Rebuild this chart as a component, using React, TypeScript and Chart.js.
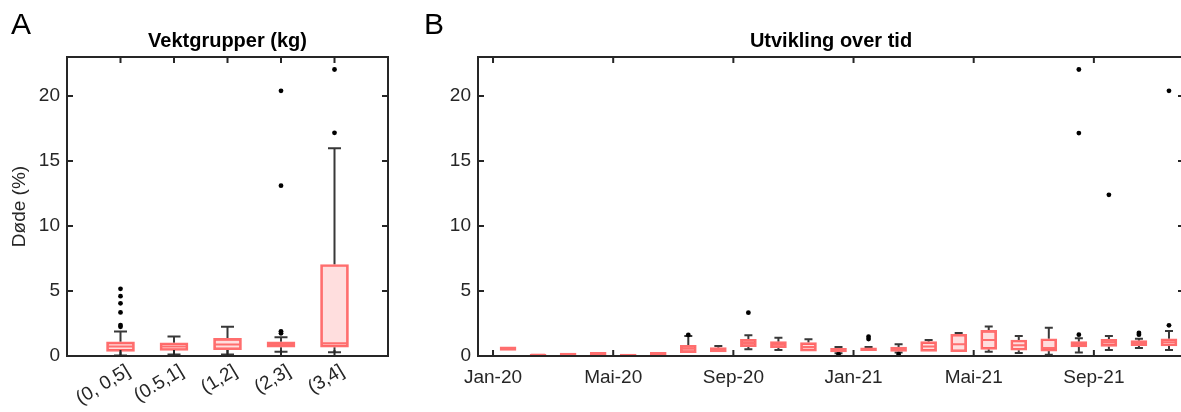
import React, { useEffect, useRef } from 'react';
import { Chart, registerables } from 'chart.js';

Chart.register(...registerables);

const FONT = '"Liberation Sans", Arial, Helvetica, sans-serif';
const INK = '#262626';
const BOX_EDGE = 'rgb(255,110,110)';
const BOX_FILL = 'rgba(255,0,0,0.13)';
const WHISKER = '#383838';

// ---------- Panel A: weight groups ----------
const categoriesA = ['(0, 0,5]', '(0.5,1]', '(1,2]', '(2,3]', '(3,4]'];
const lowA = [0.03, 0.12, 0.12, 0.32, 0.29];
const q1A = [0.35, 0.42, 0.48, 0.68, 0.68];
const medA = [0.73, 0.73, 0.88, 0.88, 0.98];
const q3A = [1.09, 1.02, 1.35, 1.09, 7.04];
const highA = [1.88, 1.5, 2.25, 1.44, 15.98];
const outliersA = [
  [2.25, 2.38, 3.35, 4.05, 4.6, 5.17],
  [],
  [],
  [1.75, 1.9, 13.1, 20.4],
  [17.17, 22.04],
];

// ---------- Panel B: development over time (monthly) ----------
const monthsB = [
  'Jan-20', 'Feb-20', 'Mar-20', 'Apr-20', 'Mai-20', 'Jun-20', 'Jul-20', 'Aug-20',
  'Sep-20', 'Okt-20', 'Nov-20', 'Des-20', 'Jan-21', 'Feb-21', 'Mar-21', 'Apr-21',
  'Mai-21', 'Jun-21', 'Jul-21', 'Aug-21', 'Sep-21', 'Okt-21', 'Nov-21',
];
const lowB = [0.4, 0.04, 0.08, 0.08, 0.03, 0.07, 0.2, 0.26, 0.51, 0.46, 0.33, 0.22, 0.36, 0.26, 0.36, 0.33, 0.33, 0.23, 0.1, 0.26, 0.46, 0.62, 0.46];
const q1B = [0.42, 0.05, 0.1, 0.1, 0.04, 0.08, 0.26, 0.31, 0.72, 0.64, 0.38, 0.31, 0.41, 0.36, 0.36, 0.33, 0.51, 0.44, 0.38, 0.69, 0.74, 0.79, 0.77];
const medB = [0.55, 0.09, 0.15, 0.18, 0.08, 0.15, 0.56, 0.46, 1.0, 0.9, 0.69, 0.46, 0.51, 0.5, 0.74, 0.9, 1.23, 0.82, 0.62, 0.9, 1.03, 1.0, 1.05];
const q3B = [0.7, 0.15, 0.22, 0.28, 0.15, 0.28, 0.82, 0.64, 1.28, 1.1, 1.03, 0.59, 0.62, 0.69, 1.1, 1.67, 1.97, 1.23, 1.33, 1.1, 1.28, 1.18, 1.33];
const highB = [0.72, 0.16, 0.24, 0.3, 0.16, 0.33, 1.54, 0.77, 1.59, 1.41, 1.28, 0.69, 0.7, 0.9, 1.23, 1.77, 2.26, 1.54, 2.18, 1.36, 1.54, 1.33, 1.92];
const outliersB = [
  [], [], [], [], [], [], [1.62], [], [3.33], [], [], [0.15],
  [1.3, 1.49], [0.15], [], [], [], [], [], [1.64, 17.15, 22.04], [12.4], [1.64, 1.77], [2.36, 20.4],
];
const monthTickPositions = [0, 4, 8, 12, 16, 20];
const monthTickLabels = ['Jan-20', 'Mai-20', 'Sep-20', 'Jan-21', 'Mai-21', 'Sep-21'];

const yTickValues = [0, 5, 10, 15, 20];
const yMax = 23;

type Panel = {
  xs: number[];
  low: number[];
  q1: number[];
  med: number[];
  q3: number[];
  high: number[];
  outliers: number[][];
  xMin: number;
  xMax: number;
  xTickValues: number[];
  xTickLabels: string[];
  rotation: number;
  labelOffset: number;
  labelPadding: number;
  yAxisWidth: number;
  rightPad: number;
  boxWidth: number;
  capWidth: number;
  title: string;
  letter: string;
  letterX: number;
  yTitle?: string;
};

const panelA: Panel = {
  xs: categoriesA.map((_, i) => i + 1),
  low: lowA, q1: q1A, med: medA, q3: q3A, high: highA, outliers: outliersA,
  xMin: 0, xMax: 6,
  xTickValues: categoriesA.map((_, i) => i + 1),
  xTickLabels: categoriesA,
  rotation: 31,
  labelOffset: 8,
  labelPadding: 4,
  yAxisWidth: 67,
  rightPad: 12,
  boxWidth: 28,
  capWidth: 13,
  title: 'Vektgrupper (kg)',
  letter: 'A',
  letterX: 11,
  yTitle: 'Døde (%)',
};

const panelB: Panel = {
  xs: monthsB.map((_, i) => i + 0.5),
  low: lowB, q1: q1B, med: medB, q3: q3B, high: highB, outliers: outliersB,
  xMin: -0.5, xMax: 23,
  xTickValues: monthTickPositions,
  xTickLabels: monthTickLabels,
  rotation: 0,
  labelOffset: 0,
  labelPadding: 10,
  yAxisWidth: 78,
  rightPad: 16,
  boxWidth: 16,
  capWidth: 8,
  title: 'Utvikling over tid',
  letter: 'B',
  letterX: 24,
};

const boxplotPlugin = {
  id: 'boxplot',
  beforeDatasetsDraw(chart: any) {
    const p: Panel = chart.options.plugins.boxplot.panel;
    const { ctx } = chart;
    const xs = chart.scales.x;
    const ys = chart.scales.y;
    ctx.save();
    ctx.strokeStyle = WHISKER;
    ctx.lineWidth = 2;
    ctx.beginPath();
    p.xs.forEach((xv, i) => {
      const px = xs.getPixelForValue(xv);
      const pLo = ys.getPixelForValue(p.low[i]);
      const pQ1 = ys.getPixelForValue(p.q1[i]);
      const pQ3 = ys.getPixelForValue(p.q3[i]);
      const pHi = ys.getPixelForValue(p.high[i]);
      const c = p.capWidth / 2;
      if (pQ3 - pHi > 0.8) {
        ctx.moveTo(px, pQ3);
        ctx.lineTo(px, pHi);
        ctx.moveTo(px - c, pHi);
        ctx.lineTo(px + c, pHi);
      }
      if (pLo - pQ1 > 0.8) {
        ctx.moveTo(px, pQ1);
        ctx.lineTo(px, pLo);
        ctx.moveTo(px - c, pLo);
        ctx.lineTo(px + c, pLo);
      }
    });
    ctx.stroke();
    ctx.restore();
  },
  afterDatasetsDraw(chart: any) {
    const p: Panel = chart.options.plugins.boxplot.panel;
    const { ctx } = chart;
    const xs = chart.scales.x;
    const ys = chart.scales.y;
    ctx.save();
    ctx.strokeStyle = BOX_EDGE;
    ctx.lineWidth = 2;
    ctx.beginPath();
    p.xs.forEach((xv, i) => {
      const px = xs.getPixelForValue(xv);
      const pm = ys.getPixelForValue(p.med[i]);
      ctx.moveTo(px - p.boxWidth / 2 + 1, pm);
      ctx.lineTo(px + p.boxWidth / 2 - 1, pm);
    });
    ctx.stroke();
    ctx.restore();
  },
  afterDraw(chart: any) {
    const p: Panel = chart.options.plugins.boxplot.panel;
    const { ctx } = chart;
    const { left, right, top, bottom } = chart.chartArea;
    const xs = chart.scales.x;
    const ys = chart.scales.y;
    const tl = 6;
    ctx.save();
    ctx.strokeStyle = INK;
    ctx.lineWidth = 2;
    ctx.strokeRect(left, top, right - left, bottom - top);
    ctx.beginPath();
    xs.ticks.forEach((t: any) => {
      const px = xs.getPixelForValue(t.value);
      ctx.moveTo(px, bottom);
      ctx.lineTo(px, bottom - tl);
      ctx.moveTo(px, top);
      ctx.lineTo(px, top + tl);
    });
    ys.ticks.forEach((t: any) => {
      const py = ys.getPixelForValue(t.value);
      ctx.moveTo(left, py);
      ctx.lineTo(left + tl, py);
      ctx.moveTo(right, py);
      ctx.lineTo(right - tl, py);
    });
    ctx.stroke();
    ctx.fillStyle = '#000';
    ctx.font = `bold 20px ${FONT}`;
    ctx.textAlign = 'center';
    ctx.textBaseline = 'alphabetic';
    ctx.fillText(p.title, (left + right) / 2, top - 10);
    ctx.font = `30px ${FONT}`;
    ctx.textAlign = 'left';
    ctx.fillText(p.letter, p.letterX, 34);
    ctx.restore();
  },
};

function buildConfig(p: Panel): any {
  const outlierPoints: { x: number; y: number }[] = [];
  p.outliers.forEach((arr, i) => arr.forEach((v) => outlierPoints.push({ x: p.xs[i], y: v })));
  return {
    type: 'bar',
    data: {
      datasets: [
        {
          type: 'bar',
          data: p.xs.map((x, i) => ({ x, y: [p.q1[i], p.q3[i]] })),
          backgroundColor: BOX_FILL,
          borderColor: BOX_EDGE,
          borderWidth: 2,
          borderSkipped: false,
          barThickness: p.boxWidth,
          grouped: false,
        },
        {
          type: 'scatter',
          data: outlierPoints,
          pointRadius: 2.4,
          pointBackgroundColor: '#000',
          pointBorderWidth: 0,
          showLine: false,
        },
      ],
    },
    options: {
      responsive: false,
      devicePixelRatio: 1,
      animation: false,
      events: [],
      layout: { padding: { top: 57, right: p.rightPad, left: 0, bottom: 0 } },
      plugins: {
        legend: { display: false },
        tooltip: { enabled: false },
        title: { display: false },
        boxplot: { panel: p },
      },
      scales: {
        x: {
          type: 'linear',
          min: p.xMin,
          max: p.xMax,
          offset: false,
          grid: { display: false, drawTicks: false },
          border: { display: false },
          afterBuildTicks: (scale: any) => {
            scale.ticks = p.xTickValues.map((v) => ({ value: v }));
          },
          afterFit: (scale: any) => {
            scale.height = 56;
          },
          ticks: {
            autoSkip: false,
            minRotation: p.rotation,
            maxRotation: p.rotation,
            labelOffset: p.labelOffset,
            padding: p.labelPadding,
            color: INK,
            font: { family: FONT, size: 19 },
            callback: (_v: any, i: number) => p.xTickLabels[i],
          },
        },
        y: {
          type: 'linear',
          min: 0,
          max: yMax,
          grid: { display: false, drawTicks: false },
          border: { display: false },
          afterBuildTicks: (scale: any) => {
            scale.ticks = yTickValues.map((v) => ({ value: v }));
          },
          afterFit: (scale: any) => {
            scale.width = p.yAxisWidth;
          },
          ticks: {
            padding: 7,
            color: INK,
            font: { family: FONT, size: 19 },
          },
          title: {
            display: !!p.yTitle,
            text: p.yTitle || '',
            color: INK,
            font: { family: FONT, size: 19 },
            padding: { top: 8, bottom: 0 },
          },
        },
      },
    },
    plugins: [boxplotPlugin],
  };
}

export default function App() {
  const refA = useRef<HTMLCanvasElement>(null);
  const refB = useRef<HTMLCanvasElement>(null);
  useEffect(() => {
    const a = new Chart(refA.current as HTMLCanvasElement, buildConfig(panelA));
    const b = new Chart(refB.current as HTMLCanvasElement, buildConfig(panelB));
    return () => {
      a.destroy();
      b.destroy();
    };
  }, []);
  return (
    <div
      style={{
        position: 'absolute',
        left: 0,
        top: 0,
        width: 1181,
        height: 412,
        overflow: 'hidden',
        background: '#fff',
      }}
    >
      <canvas
        ref={refA}
        width={400}
        height={412}
        style={{ position: 'absolute', left: 0, top: 0, width: 400, height: 412 }}
      />
      <canvas
        ref={refB}
        width={800}
        height={412}
        style={{ position: 'absolute', left: 400, top: 0, width: 800, height: 412 }}
      />
    </div>
  );
}
